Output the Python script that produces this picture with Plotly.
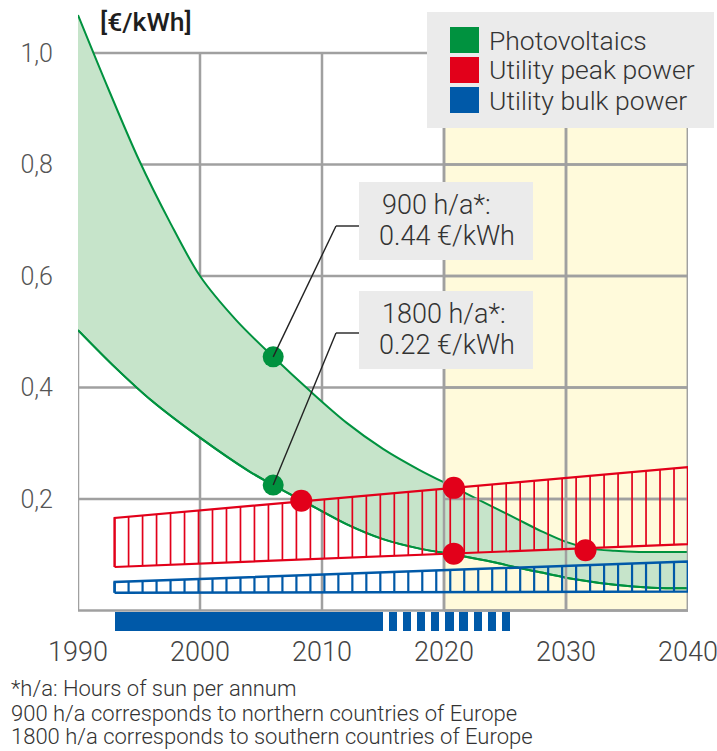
import plotly.graph_objects as go
import numpy as np

# ---------------- data ----------------
pv900_years = [1990, 1992.5, 1995, 1997.5, 2000, 2003, 2006, 2009, 2012, 2015, 2018, 2021, 2024, 2026, 2028, 2030, 2032, 2034, 2036, 2040]
pv900_vals = [1.068, 0.935, 0.808, 0.698, 0.600, 0.520, 0.455, 0.394, 0.337, 0.290, 0.252, 0.219, 0.186, 0.164, 0.142, 0.123, 0.111, 0.107, 0.105, 0.105]

pv1800_years = [1990, 1993, 1996, 2000, 2004, 2006, 2009, 2012, 2015, 2018, 2021, 2024, 2026, 2028, 2031, 2034, 2037, 2040]
pv1800_vals = [0.503, 0.437, 0.377, 0.310, 0.250, 0.225, 0.190, 0.155, 0.128, 0.111, 0.0996, 0.087, 0.077, 0.068, 0.055, 0.046, 0.041, 0.040]

peak_years = [1993, 2040]
peak_low = [0.078, 0.119]
peak_high = [0.166, 0.257]

bulk_years = [1993, 2040]
bulk_low = [0.032, 0.034]
bulk_high = [0.051, 0.088]

pv_dot_years = [2006, 2006]
pv_dot_vals = [0.455, 0.225]
peak_dot_years = [2008.3, 2020.8, 2020.8, 2031.6]
peak_dot_vals = [0.197, 0.22, 0.102, 0.108]

timeline_solid = [1993, 2015]
timeline_dash_years = [2015.8, 2016.95, 2018.1, 2019.3, 2020.45, 2021.6, 2022.75, 2023.9, 2025.1]

x_ticks = [1990, 2000, 2010, 2020, 2030, 2040]
y_ticks = [0.2, 0.4, 0.6, 0.8, 1.0]
y_ticktext = ["0,2", "0,4", "0,6", "0,8", "1,0"]
forecast_span = [2020, 2040]

legend_labels = ["Photovoltaics", "Utility peak power", "Utility bulk power"]
notes = [("900 h/a*:", "0.44 €/kWh"), ("1800 h/a*:", "0.22 €/kWh")]
footnotes = ["*h/a: Hours of sun per annum",
             "900 h/a corresponds to northern countries of Europe",
             "1800 h/a corresponds to southern countries of Europe"]

# ---------------- style ----------------
GREEN = "#00923f"
GREEN_FILL = "#c6e4ca"
RED = "#e2001a"
BLUE = "#0059a8"
GRID = "#a0a0a0"
YELLOW = "#fffadb"
BOXGRAY = "#ebebeb"
FONT = "Roboto"

W, H = 717, 751
L, R, T, B = 78, 29, 8, 118
plot_w = W - L - R
plot_h = H - T - B
y0_px, y1_px = 610.5, 53.0          # pixel rows of 0 and 1.0
ppu = y0_px - y1_px
ymax = (y0_px - T) / ppu
ymin = ymax - plot_h / ppu


def px(xp):
    return (xp - L) / plot_w


def py(yp):
    return (H - B - yp) / plot_h


fig = go.Figure()

SPL = dict(shape="spline", smoothing=0.9)
# green band
fig.add_trace(go.Scatter(x=pv1800_years, y=pv1800_vals, mode="lines",
                         line=dict(color=GREEN, width=2, **SPL),
                         hoverinfo="skip", showlegend=False))
fig.add_trace(go.Scatter(x=pv900_years, y=pv900_vals, mode="lines", fill="tonexty",
                         fillcolor=GREEN_FILL,
                         line=dict(color=GREEN, width=2, **SPL),
                         hoverinfo="skip", showlegend=False))
fig.add_trace(go.Scatter(x=pv1800_years, y=pv1800_vals, mode="lines",
                         line=dict(color=GREEN, width=2, **SPL),
                         hoverinfo="skip", showlegend=False))

# grid lines within the forecast (yellow) area, drawn over the green fill
gx, gy = [], []
for xv in [v for v in x_ticks if v >= forecast_span[0]]:
    gx += [xv, xv, None]
    gy += [0, 1.0, None]
for yv in [0] + y_ticks:
    gx += [forecast_span[0], forecast_span[1], None]
    gy += [yv, yv, None]
fig.add_trace(go.Scatter(x=gx, y=gy, mode="lines", line=dict(color=GRID, width=2.5),
                         hoverinfo="skip", showlegend=False))


def hatched_band(years, low, high, color, n_lines, lw_out, lw_hatch):
    xs = np.linspace(years[0], years[1], n_lines)
    lo = np.interp(xs, years, low)
    hi = np.interp(xs, years, high)
    hx, hy = [], []
    for a, b, c in zip(xs, lo, hi):
        hx += [a, a, None]
        hy += [b, c, None]
    fig.add_trace(go.Scatter(x=hx, y=hy, mode="lines", line=dict(color=color, width=lw_hatch),
                             hoverinfo="skip", showlegend=False))
    ox = [years[0], years[1], years[1], years[0], years[0]]
    oy = [low[0], low[1], high[1], high[0], low[0]]
    fig.add_trace(go.Scatter(x=ox, y=oy, mode="lines", line=dict(color=color, width=lw_out),
                             hoverinfo="skip", showlegend=False))


hatched_band(bulk_years, bulk_low, bulk_high, BLUE, 42, 2.5, 2.2)
hatched_band(peak_years, peak_low, peak_high, RED, 42, 2.2, 1.7)

# timeline bar below the axis
fig.add_trace(go.Bar(x=[(timeline_solid[0] + timeline_solid[1]) / 2],
                     y=[0.034], base=[-0.0365], width=[timeline_solid[1] - timeline_solid[0]],
                     marker=dict(color=BLUE, line=dict(width=0)), hoverinfo="skip", showlegend=False))
fig.add_trace(go.Bar(x=timeline_dash_years, y=[0.034] * len(timeline_dash_years),
                     base=[-0.0365] * len(timeline_dash_years), width=[0.66] * len(timeline_dash_years),
                     marker=dict(color=BLUE, line=dict(width=0)), hoverinfo="skip", showlegend=False))

# dots
fig.add_trace(go.Scatter(x=pv_dot_years, y=pv_dot_vals, mode="markers",
                         marker=dict(color=GREEN, size=21, line=dict(width=0)),
                         hoverinfo="skip", showlegend=False))
fig.add_trace(go.Scatter(x=peak_dot_years, y=peak_dot_vals, mode="markers",
                         marker=dict(color=RED, size=22, line=dict(width=0)),
                         hoverinfo="skip", showlegend=False))

shapes = []
# yellow forecast area
shapes.append(dict(type="rect", xref="x", yref="y", x0=forecast_span[0], x1=forecast_span[1],
                   y0=0, y1=1.0, fillcolor=YELLOW, line=dict(width=0), layer="below"))
# grid
for xv in x_ticks:
    shapes.append(dict(type="line", xref="x", yref="y", x0=xv, x1=xv, y0=0, y1=1.0,
                       line=dict(color=GRID, width=2.5), layer="below"))
for yv in [0] + y_ticks:
    shapes.append(dict(type="line", xref="x", yref="y", x0=x_ticks[0], x1=x_ticks[-1], y0=yv, y1=yv,
                       line=dict(color=GRID, width=2.5), layer="below"))

annotations = []
TXT = "#333333"

# legend box
shapes.append(dict(type="rect", xref="paper", yref="paper", x0=px(427), x1=px(714),
                   y0=py(128), y1=py(12), fillcolor=BOXGRAY, line=dict(width=0), layer="above"))
leg_colors = [GREEN, RED, BLUE]
leg_centers = [40, 70, 100]
for lab, col, cy in zip(legend_labels, leg_colors, leg_centers):
    shapes.append(dict(type="rect", xref="paper", yref="paper", x0=px(450), x1=px(479),
                       y0=py(cy + 13), y1=py(cy - 13), fillcolor=col, line=dict(width=0), layer="above"))
    annotations.append(dict(xref="paper", yref="paper", x=px(487), y=py(cy), text=lab,
                            xanchor="left", yanchor="middle", showarrow=False,
                            font=dict(family=FONT, size=26.5, color=TXT, weight=300)))

# note boxes with leader lines
box_tops = [182, 291]
box_h = 78
corner_px = [(336, 226), (336, 333)]
for (l1, l2), top, (cx, cyp), dx, dy in zip(notes, box_tops, corner_px, pv_dot_years, pv_dot_vals):
    shapes.append(dict(type="rect", xref="paper", yref="paper", x0=px(359), x1=px(533),
                       y0=py(top + box_h), y1=py(top), fillcolor=BOXGRAY, line=dict(width=0), layer="above"))
    annotations.append(dict(xref="paper", yref="paper", x=px(380), y=py(top + 23), text=l1,
                            xanchor="left", yanchor="middle", showarrow=False,
                            font=dict(family=FONT, size=27, color=TXT, weight=300)))
    annotations.append(dict(xref="paper", yref="paper", x=px(377), y=py(top + 54), text=l2,
                            xanchor="left", yanchor="middle", showarrow=False,
                            font=dict(family=FONT, size=27, color=TXT, weight=300)))
    shapes.append(dict(type="line", xref="paper", yref="paper", x0=px(359), x1=px(cx),
                       y0=py(cyp), y1=py(cyp), line=dict(color="#222222", width=1.4), layer="above"))
    shapes.append(dict(type="line", xref="x", yref="y",
                       x0=x_ticks[0] + (cx - L) / plot_w * (x_ticks[-1] - x_ticks[0]),
                       y0=(y0_px - cyp) / ppu, x1=dx, y1=dy,
                       line=dict(color="#222222", width=1.4), layer="above"))

# unit label
annotations.append(dict(xref="paper", yref="paper", x=px(98), y=py(22), text="[€/kWh]",
                        xanchor="left", yanchor="middle", showarrow=False,
                        font=dict(family=FONT, size=26.5, color="#1e1e1e", weight=500)))

# footnotes
for txt, cy in zip(footnotes, [689, 713, 737]):
    annotations.append(dict(xref="paper", yref="paper", x=px(9), y=py(cy), text=txt,
                            xanchor="left", yanchor="middle", showarrow=False,
                            font=dict(family=FONT, size=22, color=TXT, weight=300)))

fig.update_layout(
    width=W, height=H,
    margin=dict(l=L, r=R, t=T, b=B, autoexpand=False),
    paper_bgcolor="white", plot_bgcolor="white",
    showlegend=False, bargap=0,
    xaxis=dict(range=[x_ticks[0], x_ticks[-1]], tickvals=x_ticks, ticktext=[str(v) for v in x_ticks],
               showgrid=False, zeroline=False, showline=False, ticks="",
               ticklabeloverflow="allow", automargin=False,
               tickfont=dict(family=FONT, size=27, color="#444444", weight=300)),
    yaxis=dict(range=[ymin, ymax], tickvals=y_ticks, ticktext=y_ticktext,
               showgrid=False, zeroline=False, showline=False, ticks="",
               ticklabelstandoff=24, automargin=False,
               tickfont=dict(family=FONT, size=25, color="#555555", weight=300)),
    shapes=shapes, annotations=annotations,
)

fig.write_html("out.html", config={"displayModeBar": False},
               post_script="document.body.style.margin='0';document.body.style.overflow='hidden';")
